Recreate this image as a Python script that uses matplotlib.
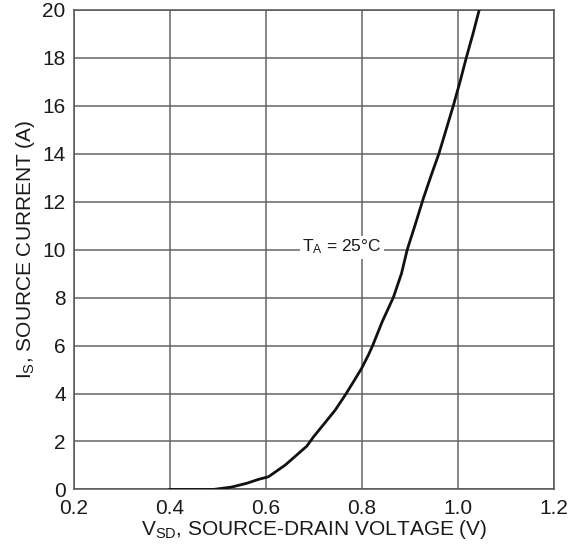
import matplotlib
matplotlib.use("Agg")
import matplotlib.pyplot as plt

# values
vsd = [0.400, 0.490, 0.528, 0.560, 0.584, 0.605, 0.640, 0.664, 0.685, 0.699,
       0.719, 0.744, 0.765, 0.782, 0.799, 0.813, 0.822, 0.842, 0.865, 0.882,
       0.894, 0.910, 0.927, 0.944, 0.960, 0.975, 0.990, 1.004, 1.017, 1.031, 1.044]
i_s = [0.00, 0.00, 0.10, 0.26, 0.42, 0.53, 1.02, 1.44, 1.81, 2.20,
       2.69, 3.31, 3.94, 4.49, 5.05, 5.60, 6.00, 7.00, 8.00, 9.00,
       10.0, 11.0, 12.1, 13.1, 14.0, 15.0, 16.0, 17.0, 18.0, 19.0, 20.0]

x_ticks = [0.2, 0.4, 0.6, 0.8, 1.0, 1.2]
y_ticks = [0, 2, 4, 6, 8, 10, 12, 14, 16, 18, 20]

plt.rcParams["font.family"] = ["Liberation Sans", "DejaVu Sans"]
plt.rcParams["mathtext.default"] = "regular"

fig = plt.figure(figsize=(5.69, 5.46), dpi=100)
ax = fig.add_axes([0.130, 0.1035, 0.844, 0.879])

ax.plot(vsd, i_s, color="#111111", lw=2.0, zorder=3)

ax.set_xlim(0.2, 1.2)
ax.set_ylim(0, 20)
ax.set_xticks(x_ticks)
ax.set_xticklabels(["%.1f" % v for v in x_ticks])
ax.set_yticks(y_ticks)
ax.tick_params(length=0, labelsize=15, colors="#1a1a1a")
ax.tick_params(axis="x", pad=7)
ax.tick_params(axis="y", pad=6)

ax.grid(True, color="#666666", lw=1.1)
ax.set_axisbelow(True)
for s in ax.spines.values():
    s.set_color("#555555")
    s.set_linewidth(1.1)

ax.text(0.758, 10.1, r"T$_A$ = 25°C", fontsize=12.5, ha="center", va="center",
        color="#1a1a1a", bbox=dict(facecolor="white", edgecolor="none", pad=1.5),
        zorder=2)

ax.set_xlabel(r"V$_{SD}$, SOURCE-DRAIN VOLTAGE (V)", fontsize=15, labelpad=0,
              color="#1a1a1a")
ax.set_ylabel(r"I$_S$, SOURCE CURRENT (A)", fontsize=15, labelpad=4,
              color="#1a1a1a")

fig.savefig("out.png", dpi=100)
